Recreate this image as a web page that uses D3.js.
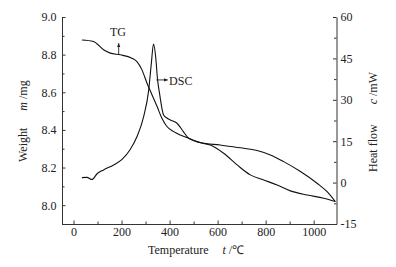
<!DOCTYPE html>
<html>
<head>
<meta charset="utf-8">
<script src="https://cdn.jsdelivr.net/npm/d3@7"></script>
<style>
  body { margin: 0; background: #fff; }
  svg { display: block; }
  text { font-family: "Liberation Serif", "Times New Roman", serif; fill: #222; }
</style>
</head>
<body>
<svg></svg>
<script>
// TG curve (weight, left axis)
const tgTemp = [35, 83, 125, 153, 195, 243, 264, 285, 306, 327, 348, 368, 389, 417, 445, 479, 528, 570, 625, 681, 736, 792, 848, 903, 973, 1042, 1090]
const tgMass = [8.878, 8.870, 8.826, 8.808, 8.799, 8.781, 8.763, 8.719, 8.648, 8.586, 8.524, 8.462, 8.418, 8.391, 8.373, 8.356, 8.332, 8.320, 8.276, 8.214, 8.161, 8.134, 8.107, 8.076, 8.054, 8.037, 8.019]

// DSC curve (heat flow, right axis)
const dscTemp = [35, 56, 77, 98, 125, 167, 202, 236, 264, 292, 313, 324, 333, 342, 350, 358, 375, 389, 403, 431, 458, 479, 528, 611, 695, 764, 820, 875, 945, 1014, 1056, 1090]
const dscHeat = [1.8, 1.9, 1.1, 3.2, 4.6, 6.4, 8.4, 12.0, 16.6, 23.9, 33.5, 43.2, 50.2, 45.6, 37.2, 32.4, 24.5, 23.4, 22.7, 21.5, 18.4, 16.1, 14.5, 13.6, 12.6, 11.6, 10.0, 7.6, 4.0, -0.25, -3.3, -6.9]

// ticks
const xTicks = [0, 200, 400, 600, 800, 1000]
const xMinor = [100, 300, 500, 700, 900]
const mTicks = [8.0, 8.2, 8.4, 8.6, 8.8, 9.0]
const mMinor = [7.9, 8.1, 8.3, 8.5, 8.7, 8.9]
const cTicks = [-15, 0, 15, 30, 45, 60]
const cMinor = [-7.5, 7.5, 22.5, 37.5, 52.5]

const width = 396, height = 267
const plotLeft = 62, plotRight = 336.5, plotTop = 17, plotBottom = 224

const svg = d3.select("svg").attr("width", width).attr("height", height)

const x = d3.scaleLinear().domain([-48, 1095]).range([plotLeft, plotRight])
const yM = d3.scaleLinear().domain([7.9, 9.0]).range([plotBottom, plotTop])
const yC = d3.scaleLinear().domain([-15, 60]).range([plotBottom, plotTop])

function style(g) {
  g.selectAll("path, line").attr("stroke", "#333").attr("stroke-width", 1)
  g.selectAll("text").attr("font-family", "Liberation Serif, serif").attr("font-size", 12).attr("fill", "#222")
}

// bottom axis
svg.append("g").attr("transform", `translate(0,${plotBottom})`)
  .call(d3.axisBottom(x).tickValues(xTicks).tickSize(-3.5).tickSizeOuter(0).tickPadding(3.5).tickFormat(d3.format("d")))
  .call(style)
svg.append("g").attr("transform", `translate(0,${plotBottom})`)
  .call(d3.axisBottom(x).tickValues(xMinor).tickSize(-2.5).tickSizeOuter(0).tickFormat(""))
  .call(style).select(".domain").remove()

// left axis
svg.append("g").attr("transform", `translate(${plotLeft},0)`)
  .call(d3.axisLeft(yM).tickValues(mTicks).tickSize(-3.5).tickSizeOuter(0).tickPadding(5.5).tickFormat(d3.format(".1f")))
  .call(style)
svg.append("g").attr("transform", `translate(${plotLeft},0)`)
  .call(d3.axisLeft(yM).tickValues(mMinor).tickSize(-2.5).tickSizeOuter(0).tickFormat(""))
  .call(style).select(".domain").remove()

// right axis
svg.append("g").attr("transform", `translate(${plotRight},0)`)
  .call(d3.axisRight(yC).tickValues(cTicks).tickSize(-3.5).tickSizeOuter(0).tickPadding(4)
    .tickFormat(d => d < 0 ? "-" + Math.abs(d) : d))
  .call(style)
svg.append("g").attr("transform", `translate(${plotRight},0)`)
  .call(d3.axisRight(yC).tickValues(cMinor).tickSize(-2.5).tickSizeOuter(0).tickFormat(""))
  .call(style).select(".domain").remove()

// curves
const tgLine = d3.line().x((d, i) => x(tgTemp[i])).y(d => yM(d)).curve(d3.curveMonotoneX)
const dscLine = d3.line().x((d, i) => x(dscTemp[i])).y(d => yC(d)).curve(d3.curveMonotoneX)

svg.append("path").datum(tgMass)
  .attr("fill", "none").attr("stroke", "#111").attr("stroke-width", 1.1)
  .attr("d", tgLine)
svg.append("path").datum(dscHeat)
  .attr("fill", "none").attr("stroke", "#111").attr("stroke-width", 1.1)
  .attr("d", dscLine)

// arrow marker
svg.append("defs").append("marker")
  .attr("id", "arr").attr("viewBox", "0 0 10 10").attr("refX", 9).attr("refY", 5)
  .attr("markerWidth", 4.5).attr("markerHeight", 4.5).attr("orient", "auto")
  .append("path").attr("d", "M0,1 L10,5 L0,9 Z").attr("fill", "#222")

// TG annotation
svg.append("line")
  .attr("x1", x(188)).attr("x2", x(188)).attr("y1", yM(8.80)).attr("y2", yM(8.86))
  .attr("stroke", "#222").attr("stroke-width", 0.9).attr("marker-end", "url(#arr)")
svg.append("text").attr("x", x(185)).attr("y", yM(8.90)).attr("text-anchor", "middle")
  .attr("font-size", 12).text("TG")

// DSC annotation
svg.append("line")
  .attr("x1", x(345)).attr("x2", x(392)).attr("y1", yC(37.2)).attr("y2", yC(37.2))
  .attr("stroke", "#222").attr("stroke-width", 0.9).attr("marker-end", "url(#arr)")
svg.append("text").attr("x", x(398)).attr("y", yC(35.4))
  .attr("font-size", 12).text("DSC")

// axis titles
const xt = svg.append("text").attr("x", 148).attr("y", 254).attr("font-size", 12)
xt.append("tspan").text("Temperature")
xt.append("tspan").attr("dx", 14).attr("font-style", "italic").text("t")
xt.append("tspan").text(" /\u2103")

const lt = svg.append("text").attr("transform", "translate(27,162) rotate(-90)").attr("font-size", 12)
lt.append("tspan").text("Weight")
lt.append("tspan").attr("dx", 17).attr("font-style", "italic").text("m")
lt.append("tspan").text(" /mg")

const rt = svg.append("text").attr("transform", "translate(377,172) rotate(-90)").attr("font-size", 12)
rt.append("tspan").text("Heat flow")
rt.append("tspan").attr("dx", 20).attr("font-style", "italic").text("c")
rt.append("tspan").text(" /mW")
</script>
</body>
</html>
